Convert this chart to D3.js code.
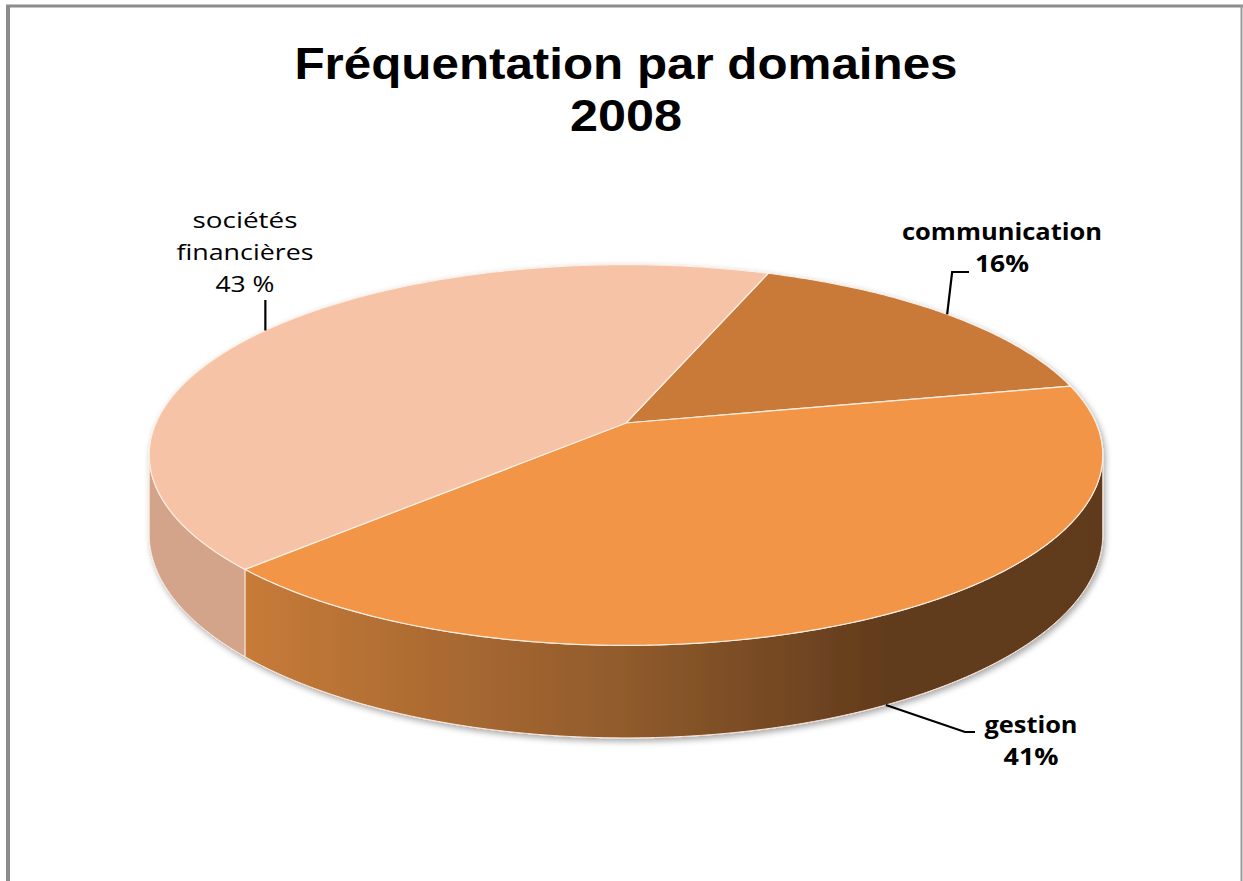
<!DOCTYPE html>
<html>
<head>
<meta charset="utf-8">
<script src="https://cdn.jsdelivr.net/npm/d3@7"></script>
<style>
  body { margin: 0; background: #ffffff; }
  text { font-family: 'Open Sans', 'DejaVu Sans', sans-serif; fill: #000; }
  text.title { font-family: 'Liberation Sans', Arial, sans-serif; }
</style>
</head>
<body>
<div id="chart"></div>
<script>
// data
const categories = ['communication', 'gestion', 'sociétés financières'];
const shares = [16, 41, 43];
const labelLines = [['communication', '16%'], ['gestion', '41%'], ['sociétés', 'financières', '43 %']];
const titleLines = ['Fréquentation par domaines', '2008'];

const width = 1243, height = 881;

// 3d projection of the pie (perspective tilt)
const cx = 626, cy = 423;
const rx = 470, ry = 185;
const persp = 0.168;   // how much the near half grows
const depth = 77;      // thickness of the cake
const firstSlice = 20.5 * Math.PI / 180;

const color = d3.scaleOrdinal()
    .domain(categories)
    .range(['#c97a37', '#f29546', '#f6c3a7']);
const sideColor = d3.scaleOrdinal()
    .domain(categories)
    .range(['#8a5529', 'url(#gestionSide)', '#d4a48a']);

function project(a, drop) {
    const X = Math.sin(a), Y = -Math.cos(a);
    const k = 1 / (1 - persp * Y);
    return [cx + rx * X * k, cy + ry * Y * k + (drop || 0) * depth * k];
}

function arcPoints(a0, a1, drop) {
    const n = Math.max(2, Math.ceil(Math.abs(a1 - a0) / 0.01));
    return d3.range(n + 1).map(i => project(a0 + (a1 - a0) * i / n, drop));
}

const pie = d3.pie()
    .sort(null)
    .value(d => d)
    .startAngle(firstSlice)
    .endAngle(firstSlice + 2 * Math.PI);
const slices = pie(shares).map((d, i) => ({ ...d, name: categories[i], lines: labelLines[i] }));

// side is only seen between the two silhouette points
const sideFrom = Math.acos(-persp), sideTo = 2 * Math.PI - Math.acos(-persp);

const svg = d3.select('#chart')
    .append('svg')
    .attr('width', width)
    .attr('height', height);

const defs = svg.append('defs');
const shadow = defs.append('filter').attr('id', 'shadow')
    .attr('x', '-10%').attr('y', '-10%').attr('width', '120%').attr('height', '130%');
shadow.append('feDropShadow')
    .attr('dx', 2).attr('dy', 3)
    .attr('stdDeviation', 3)
    .attr('flood-color', '#000')
    .attr('flood-opacity', 0.35);

const gestion = slices[1];
const gx0 = project(gestion.endAngle)[0];
const gx1 = project(sideFrom)[0];
const grad = defs.append('linearGradient').attr('id', 'gestionSide')
    .attr('gradientUnits', 'userSpaceOnUse')
    .attr('x1', gx0).attr('x2', gx1).attr('y1', 0).attr('y2', 0);
grad.selectAll('stop')
    .data([[0, '#c77b38'], [0.45, '#8f5a2c'], [0.75, '#613b1c'], [1, '#5f3a1b']])
    .join('stop')
    .attr('offset', d => d[0])
    .attr('stop-color', d => d[1]);

// frame
svg.append('line').attr('x1', 6).attr('x2', 1243).attr('y1', 6).attr('y2', 6)
    .attr('stroke', '#8c8c8c').attr('stroke-width', 3);
svg.append('line').attr('x1', 8).attr('x2', 8).attr('y1', 5).attr('y2', height)
    .attr('stroke', '#8c8c8c').attr('stroke-width', 4);
svg.append('line').attr('x1', 1241.5).attr('x2', 1241.5).attr('y1', 5).attr('y2', height)
    .attr('stroke', '#9a9a9a').attr('stroke-width', 2);

// title
svg.append('g').selectAll('text')
    .data(titleLines)
    .join('text')
    .classed('title', true)
    .attr('x', 626)
    .attr('y', (d, i) => 79 + i * 52)
    .attr('text-anchor', 'middle')
    .style('font-size', '44px')
    .style('font-weight', 'bold')
    .attr('textLength', (d, i) => i === 0 ? 663 : 112)
    .attr('lengthAdjust', 'spacingAndGlyphs')
    .text(d => d);

const line = d3.line();
const pieG = svg.append('g').attr('filter', 'url(#shadow)');

// sides first
slices.forEach(d => {
    const a0 = Math.max(d.startAngle, sideFrom);
    const a1 = Math.min(d.endAngle, sideTo);
    if (a1 <= a0) return;
    const top = arcPoints(a0, a1, 0);
    const bottom = arcPoints(a1, a0, 1);
    pieG.append('path')
        .attr('d', line(top.concat(bottom)) + 'Z')
        .attr('fill', sideColor(d.name))
        .attr('stroke', '#fbe6da')
        .attr('stroke-width', 1)
        .attr('stroke-linejoin', 'round');
});

// top faces
pieG.selectAll('path.top')
    .data(slices)
    .join('path')
    .classed('top', true)
    .attr('d', d => line([[cx, cy]].concat(arcPoints(d.startAngle, d.endAngle, 0))) + 'Z')
    .attr('fill', d => color(d.name))
    .attr('stroke', '#fdeee4')
    .attr('stroke-width', 1.2)
    .attr('stroke-linejoin', 'round');

// labels with leader lines
const labelSize = { 'communication': 24, 'gestion': 24, 'sociétés financières': 21 };
const labelBold = { 'communication': true, 'gestion': true, 'sociétés financières': false };
const labelWidths = { 'communication': [200, 54], 'gestion': [93, 55], 'sociétés financières': [105, 137, 59] };
const labelAt = {
    'communication': { x: 1002, y: 240, bend: d => [[d[0] + 5, 272], [969, 272]] },
    'gestion': { x: 1031, y: 733, bend: d => [[965, 732], [975, 732]] },
    'sociétés financières': { x: 245, y: 228, bend: d => [[d[0], 300]] }
};

slices.forEach(d => {
    const mid = (d.startAngle + d.endAngle) / 2;
    const onFront = Math.cos(mid) < -persp;
    const start = project(mid, onFront ? 1 : 0);
    const spot = labelAt[d.name];
    svg.append('path')
        .attr('d', line([start].concat(spot.bend(start))))
        .attr('fill', 'none')
        .attr('stroke', '#000')
        .attr('stroke-width', 2.2);

    svg.append('g').selectAll('text')
        .data(d.lines)
        .join('text')
        .attr('x', spot.x)
        .attr('y', (t, i) => spot.y + i * 32)
        .attr('text-anchor', 'middle')
        .style('font-size', labelSize[d.name] + 'px')
        .style('font-weight', labelBold[d.name] ? 'bold' : 'normal')
        .attr('textLength', (t, i) => labelWidths[d.name][i])
        .attr('lengthAdjust', 'spacingAndGlyphs')
        .text(t => t);
});
</script>
</body>
</html>
